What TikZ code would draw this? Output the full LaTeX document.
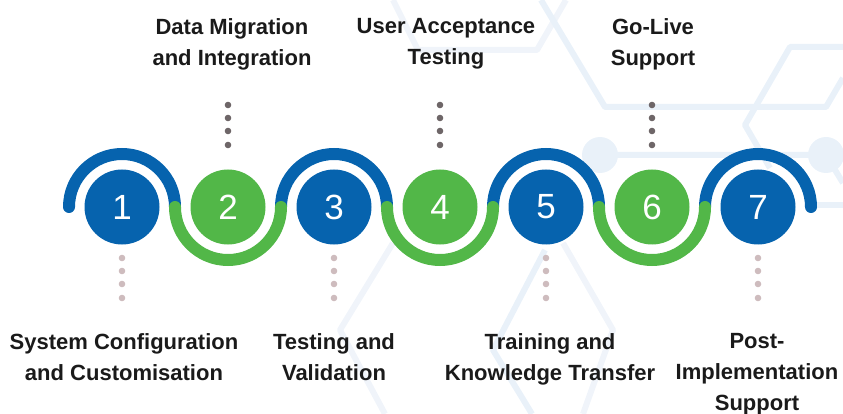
\documentclass[tikz,border=0pt]{standalone}
\usepackage{fontspec}
\setmainfont{Liberation Sans}
\definecolor{myblue}{RGB}{6,99,174}
\definecolor{mygreen}{RGB}{82,183,72}
\definecolor{bgc}{RGB}{233,241,249}
\definecolor{bgd}{RGB}{240,244,250}
\definecolor{txt}{RGB}{26,26,26}
\definecolor{dotdark}{RGB}{110,102,104}
\definecolor{dotlight}{RGB}{206,188,190}
\tikzset{
  bgline/.style={draw=bgc, line width=6pt, line join=round},
  bglinef/.style={draw=bgd, line width=6pt, line join=round},
  num/.style={circle, minimum size=75pt, inner sep=0pt, text=white, font=\fontsize{35}{35}\selectfont},
  bluenum/.style={num, fill=myblue},
  greennum/.style={num, fill=mygreen},
  bluearc/.style={draw=myblue, line width=12pt, line cap=round},
  greenarc/.style={draw=mygreen, line width=12pt, line cap=round},
  lbl/.style={font=\bfseries\fontsize{22}{31}\selectfont, align=center, anchor=north, inner sep=0pt, text=txt},
  dotA/.style={fill=dotdark},
  dotB/.style={fill=dotlight}
}
\begin{document}
\begin{tikzpicture}[x=1pt,y=-1pt]
\useasboundingbox (0,0) rectangle (843,414);
% background pattern
\draw[bglinef] (393,0) -- (418,50) -- (537,50) -- (566,0);
\draw[bgline] (541,0) -- (605,107) -- (826,107) -- (843,78);
\draw[bgline] (843,47) -- (790,47) -- (745,125) -- (770,168);
\draw[bgline] (600,155) -- (826,155) -- (843,183);
\draw[bgline] (812,205) -- (843,205);
\fill[bgc] (600,155) circle (18pt);
\fill[bgc] (826,155) circle (18pt);
\draw[bglinef] (393,243) -- (340,330) -- (385,414);
\draw[bgline] (545,250) -- (493,350) -- (532,414);
\draw[bglinef] (563,243) -- (613,330) -- (583,414);
% number circles
\node[bluenum]  (c1) at (122,207) {1};
\node[greennum] (c2) at (228,207) {2};
\node[bluenum]  (c3) at (334,207) {3};
\node[greennum] (c4) at (440,207) {4};
\node[bluenum]  (c5) at (546,207) {5};
\node[greennum] (c6) at (652,207) {6};
\node[bluenum]  (c7) at (758,207) {7};
% wave
\foreach \c in {c1,c3,c5,c7}
  \draw[bluearc] ([xshift=-53pt]\c.center) arc[start angle=180, end angle=0, radius=53pt];
\foreach \c in {c2,c4,c6}
  \draw[greenarc] ([xshift=-53pt]\c.center) arc[start angle=180, end angle=360, radius=53pt];
% dots
\foreach \c in {c2,c4,c6}
  \foreach \dy in {-102,-89,-76,-62}
    \fill[dotA] ([yshift=-\dy pt]\c.center) circle (3.3pt);
\foreach \c in {c1,c3,c5,c7}
  \foreach \dy in {51,64,77,91}
    \fill[dotB] ([yshift=-\dy pt]\c.center) circle (3.3pt);
% labels
\node[lbl] (t2) at (232,18) {Data Migration\\and Integration};
\node[lbl] (t4) at (446,18) {User Acceptance\\Testing};
\node[lbl] (t6) at (653,18) {Go-Live\\Support};
\node[lbl] (t1) at (124,333) {System Configuration\\and Customisation};
\node[lbl] (t3) at (334,333) {Testing and\\Validation};
\node[lbl] (t5) at (550,333) {Training and\\Knowledge Transfer};
\node[lbl] (t7) at (757,333) {Post-\\Implementation\\Support};
\end{tikzpicture}
\end{document}
